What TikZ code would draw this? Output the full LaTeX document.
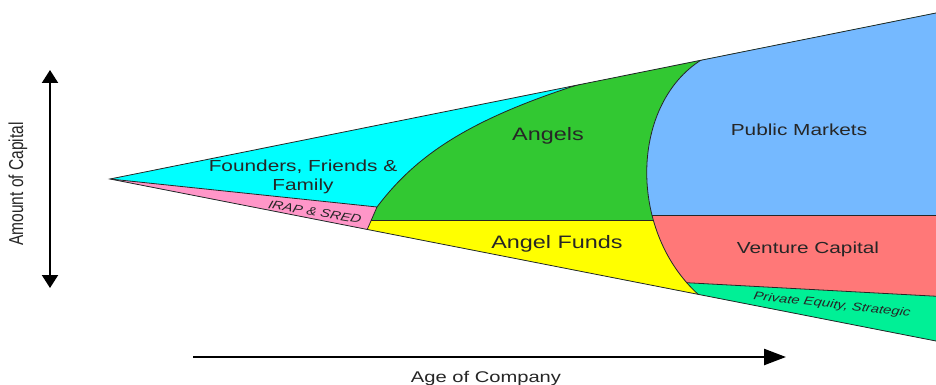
\documentclass[tikz,border=0pt]{standalone}
\usepackage{fontspec}
\setmainfont{Liberation Sans}
\usetikzlibrary{arrows.meta}
\usetikzlibrary{calc}

\definecolor{fundcyan}{RGB}{0,255,255}
\definecolor{fundgreen}{RGB}{50,200,50}
\definecolor{fundpink}{RGB}{255,150,200}
\definecolor{fundyellow}{RGB}{255,255,0}
\definecolor{fundblue}{RGB}{117,185,255}
\definecolor{fundred}{RGB}{255,120,120}
\definecolor{fundteal}{RGB}{0,240,150}

\begin{document}
\begin{tikzpicture}[x=1pt, y=-1pt,
edge/.style={draw=black!85, line width=0.8pt},
lbl/.style={text=black!85, inner sep=0pt, xscale=1.3, align=center},
big/.style={font=\fontsize{18}{21}\selectfont},
mid/.style={font=\fontsize{16}{19}\selectfont},
small/.style={font=\fontsize{11.5}{13}\selectfont\itshape},
axis/.style={draw=black, line width=2.4pt}]
\useasboundingbox (0,0) rectangle (936,385);
\coordinate (apex) at (110,179);
\coordinate (tr) at (936,13);
\coordinate (br) at (936,341);
\coordinate (ptop) at (377,207);
\coordinate (pbot) at (367,230);
\coordinate (yleft) at (371.3,220);
\begin{scope}
	\clip (apex) -- (tr) -- (br) -- cycle;
	\fill[fundcyan] (0,0) rectangle (936,385);
	\fill[fundgreen] (ptop) .. controls (420,150) and (480,112) .. (620,72) -- (640,0) -- (936,0) -- (936,220) -- (yleft) -- cycle;
	\fill[fundpink] (apex) -- (ptop) -- (360,246) -- (100,200) -- cycle;
	\fill[fundyellow] (yleft) -- (720,220) -- (720,330) -- (360,246) -- cycle;
	\draw[edge] (ptop) .. controls (420,150) and (480,112) .. (620,72);
	\draw[edge] (apex) -- (ptop) -- (pbot);
	\draw[edge] (yleft) -- (700,220);
	\fill[fundteal] (710,55) .. controls (630,95) and (625,230) .. (700,296) -- (700,400) -- (950,400) -- (950,0) -- (715,0) -- cycle;
	\begin{scope}
		\clip (710,55) .. controls (630,95) and (625,230) .. (700,296) -- (700,400) -- (950,400) -- (950,0) -- (715,0) -- cycle;
		\fill[fundred] (600,215) -- (950,215) -- (950,297) -- (600,278) -- cycle;
		\fill[fundblue] (600,0) rectangle (950,215);
		\draw[edge] (600,215) -- (950,215);
		\draw[edge] (600,278) -- (950,297);
	\end{scope}
	\draw[edge] (710,55) .. controls (630,95) and (625,230) .. (700,296);
\end{scope}
\draw[edge] (tr) -- (apex) -- (br);

\node[lbl, mid] (founders) at (303,177) {Founders, Friends \&\\Family};
\node[lbl, big] (angels) at (548,136) {Angels};
\node[lbl, mid] (public) at (799,130) {Public Markets};
\node[lbl, big] (angelfunds) at (557,244) {Angel Funds};
\node[lbl, mid] (venture) at (808,249) {Venture Capital};
\node[lbl, small, rotate=-12] (irap) at (315,212) {IRAP \& SRED};
\node[lbl, small, rotate=-8] (privateeq) at (832,305) {Private Equity, Strategic};

\coordinate (captop) at (50,70);
\coordinate (capbot) at (50,288);
\draw[axis, line width=2pt, {Triangle[length=13pt,width=16pt]}-{Triangle[length=13pt,width=16pt]}] (capbot) -- (captop);
\node[text=black!85, inner sep=0pt, font=\fontsize{15.5}{18}\selectfont, rotate=90, yscale=1.3] (amount) at (18,184) {Amount of Capital};

\coordinate (agestart) at (193,357);
\coordinate (ageend) at (786,357);
\draw[axis, -{Triangle[length=22pt,width=16pt]}] (agestart) -- (ageend);
\node[lbl, font=\fontsize{15.5}{18}\selectfont] (age) at (486,378) {Age of Company};
\end{tikzpicture}
\end{document}
